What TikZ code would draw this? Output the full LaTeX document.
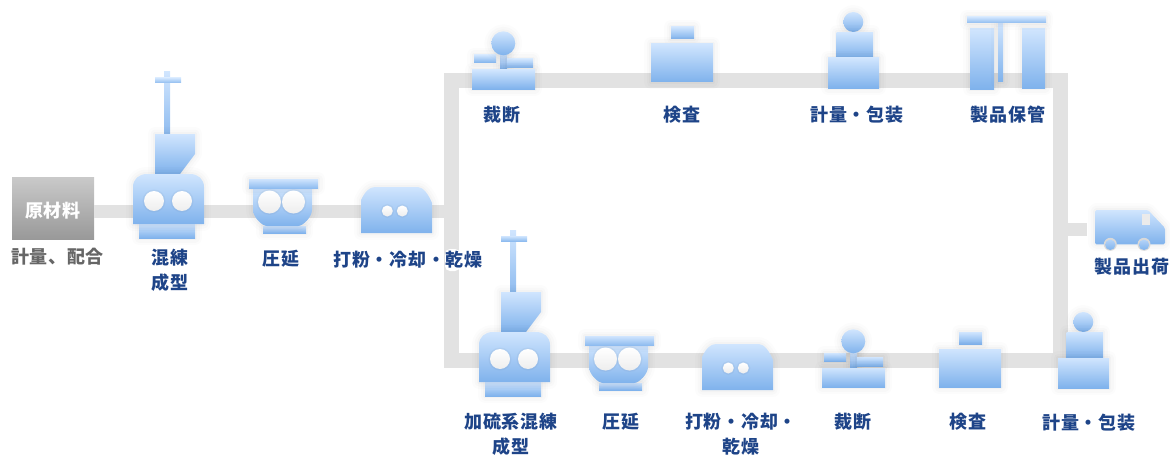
\documentclass[tikz,border=0pt]{standalone}
\usepackage{fontspec}
\newfontfamily\jpfont[LetterSpace=4]{Noto Sans CJK JP}
\usetikzlibrary{arrows.meta}
\definecolor{pipegray}{HTML}{E2E2E2}
\definecolor{bluetop}{HTML}{D0E5FE}
\definecolor{bluebot}{HTML}{7FB2EC}
\definecolor{bluemid}{HTML}{B4D3F8}
\definecolor{labelblue}{HTML}{1E4488}
\definecolor{labelgray}{HTML}{666666}
\tikzstyle{glow}=[preaction={draw=black,draw opacity=.012,line width=14pt,line join=round},preaction={draw=black,draw opacity=.016,line width=9pt,line join=round},preaction={draw=black,draw opacity=.02,line width=4pt,line join=round}]
\tikzstyle{part}=[glow,top color=bluetop,bottom color=bluebot]
\tikzstyle{bar}=[top color=bluetop,bottom color=bluebot!80!bluetop]
\tikzstyle{ball}=[top color=white,bottom color=black!7,preaction={draw=black,draw opacity=.03,line width=3pt}]
\tikzstyle{pipe}=[draw=pipegray,line width=13pt]
\tikzstyle{loop}=[draw=pipegray,line width=15pt]
\tikzstyle{lbl}=[inner sep=0pt,align=center,text=labelblue,font=\jpfont\bfseries\fontsize{18}{25}\selectfont]
\tikzstyle{lblgray}=[lbl,text=labelgray]
\tikzstyle{rawbox}=[inner sep=0pt,minimum width=82pt,minimum height=62pt,top color=black!21,bottom color=black!40,text=white,font=\jpfont\bfseries\fontsize{18}{25}\selectfont]
\tikzset{
	mixer/.pic={
		\path[bar] (31,-102) rectangle (37,-40);
		\path[bar] (22,-96) rectangle (48,-91);
		\path[part] (22,-40) -- (62,-40) -- (62,-20) -- (47,0) -- (22,0) -- cycle;
		\path[part] (6,50) rectangle (62,64);
		\path[part] (0,50) -- (0,13) .. controls (0,5) and (6,0) .. (14,0) -- (57,0) .. controls (65,0) and (71,5) .. (71,13) -- (71,50) -- cycle;
		\path[ball] (21,27) circle (10);
		\path[ball] (49,27) circle (10);
	},
	roller/.pic={
		\path[part] (14,47) rectangle (57,54);
		\path[part] (4,9) -- (63,9) -- (63,31) .. controls (63,38) and (54,47) .. (49,47) -- (18,47) .. controls (13,47) and (4,38) .. (4,31) -- cycle;
		\path[bar,glow] (0,0) rectangle (69,9);
		\path[ball] (20.5,23) circle (11.5);
		\path[ball] (44.5,23) circle (11.5);
	},
	cooler/.pic={
		\path[part] (0,46) -- (0,13) .. controls (4,5) and (8,0) .. (14,0) -- (57,0) .. controls (62,0) and (68,8) .. (71,16) -- (71,46) -- cycle;
		\path[ball] (26.3,24) circle (5.5);
		\path[ball] (41.3,24) circle (5.5);
	},
	cutter/.pic={
		\path[part] (28,-15) rectangle (35,0);
		\path[part] (2,-15) rectangle (24,-7);
		\path[part] (35,-11) rectangle (61,-2);
		\path[part] (0,0) rectangle (63,19);
		\path[part] (31.3,-26.7) circle (12);
	},
	inspect/.pic={
		\path[part] (20,-17) rectangle (43,-5);
		\path[part] (0,0) rectangle (62,38);
	},
	weigher/.pic={
		\path[part] (25.3,-36) circle (10);
		\path[part] (8.7,-25.7) rectangle (45,0);
		\path[part] (0,0) rectangle (51,30);
	},
	storage/.pic={
		\path[part] (3,12) rectangle (27,72);
		\path[part] (31,6) rectangle (36,65);
		\path[part] (55,12) rectangle (78,71);
		\path[bar,glow] (0,0) rectangle (79,6);
	},
	truck/.pic={
		\path[part,rounded corners=1.5pt] (0,0) -- (53,0) -- (70,18) -- (70,34.3) -- (0,34.3) -- cycle;
		\path[fill=black!8] (47,4) rectangle (55.3,15);
		\path[fill=white!85!black] (15.3,34.3) circle (6.5);
		\path[fill=white!85!black] (49,34.3) circle (6.5);
		\path[top color=bluemid,bottom color=bluebot] (15.3,34.8) circle (5.2);
		\path[top color=bluemid,bottom color=bluebot] (49,34.8) circle (5.2);
	},
}
\begin{document}
\begin{tikzpicture}[x=1pt,y=-1pt]
	\useasboundingbox (0,0) rectangle (1170,460);
	% pipes
	\coordinate (nw) at (451.5,80.5);
	\coordinate (ne) at (1060.5,80.5);
	\coordinate (se) at (1060.5,360.5);
	\coordinate (sw) at (451.5,360.5);
	\coordinate (trunkw) at (451.5,211.5);
	\coordinate (trunke) at (1060.5,229.5);
	\coordinate (truckin) at (1087,229.5);
	\node[rawbox] (raw) at (53,208) {\raisebox{0pt}[18pt][0pt]{原材料}};
	\draw[pipe] (raw.east |- trunkw) -- (trunkw);
	\draw[loop] (nw) -- (ne) -- (se) -- (sw) -- cycle;
	\draw[pipe] (trunke) -- (truckin);
	% line one
	\pic (mix1) at (133,174) {mixer};
	\pic (rol1) at (249,179) {roller};
	\pic (cool1) at (361,187) {cooler};
	% upper branch
	\pic (cut1) at (472,70) {cutter};
	\pic (insp1) at (651,44) {inspect};
	\pic (wgh1) at (828,58) {weigher};
	\pic (stor) at (967,17) {storage};
	\pic (trk) at (1095,210) {truck};
	% lower branch
	\pic (mix2) at (479,332) {mixer};
	\pic (rol2) at (585,336) {roller};
	\pic (cool2) at (702,344) {cooler};
	\pic (cut2) at (822,368) {cutter};
	\pic (insp2) at (939,349) {inspect};
	\pic (wgh2) at (1058,358) {weigher};
	% labels
	\fill[white,rounded corners=5pt] (445,249) rectangle (460,271);
	\node[lblgray] (l-raw) at (57.5,257) {計量、配合};
	\node[lbl,anchor=north] (l-mix1) at (170,249) {混練\\成型};
	\node[lbl] (l-rol1) at (281,259) {圧延};
	\node[lbl] (l-cool1) at (408,260) {打粉・冷却・乾燥};
	\node[lbl] (l-cut1) at (502,115) {裁断};
	\node[lbl] (l-insp1) at (682,115) {検査};
	\node[lbl] (l-wgh1) at (857,115) {計量・包装};
	\node[lbl] (l-stor) at (1008,115) {製品保管};
	\node[lbl] (l-trk) at (1132,267) {製品出荷};
	\node[lbl,anchor=north] (l-mix2) at (511,413) {加硫系混練\\成型};
	\node[lbl] (l-rol2) at (621,422) {圧延};
	\node[lbl,anchor=north] (l-cool2) at (741,413) {打粉・冷却・\\乾燥};
	\node[lbl] (l-cut2) at (853,422) {裁断};
	\node[lbl] (l-insp2) at (968,422) {検査};
	\node[lbl] (l-wgh2) at (1089,423) {計量・包装};
\end{tikzpicture}
\end{document}
